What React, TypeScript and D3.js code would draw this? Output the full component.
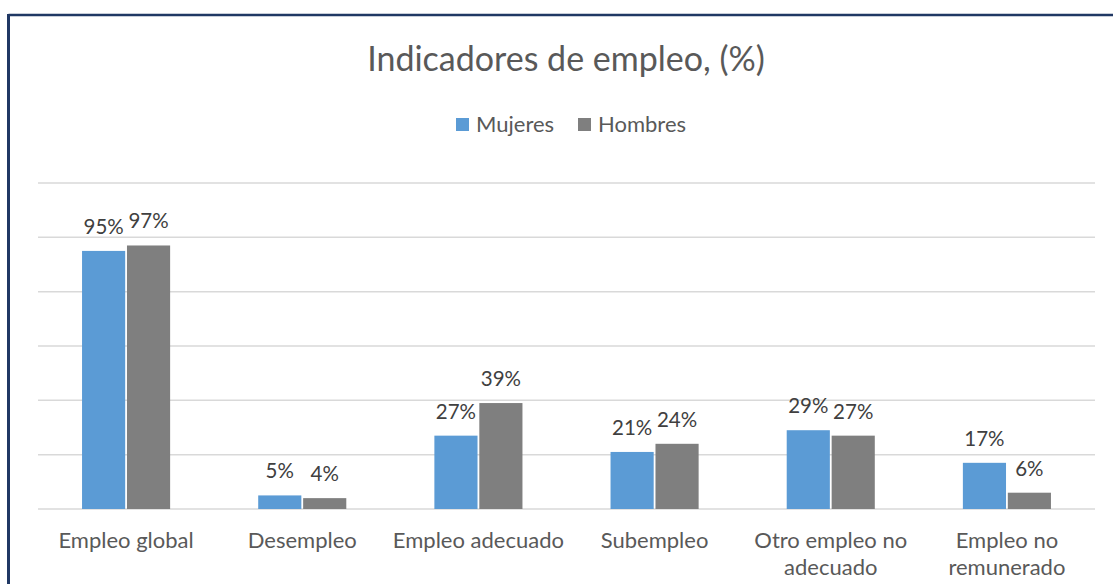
import React from "react";
import * as d3 from "d3";

const categories: string[][] = [
  ["Empleo global"],
  ["Desempleo"],
  ["Empleo adecuado"],
  ["Subempleo"],
  ["Otro empleo no", "adecuado"],
  ["Empleo no", "remunerado"],
];
const mujeres = [95, 5, 27, 21, 29, 17];
const hombres = [97, 4, 39, 24, 27, 6];
const seriesNames = ["Mujeres", "Hombres"];
const colors = ["#5B9BD5", "#7F7F7F"];
const yTicks = [0, 20, 40, 60, 80, 100, 120];

const W = 1113;
const H = 584;
const FONT = "Lato, 'Open Sans', sans-serif";

export default function App() {
  const left = 38;
  const right = 1095;
  const top = 183;
  const bottom = 509;
  const x0 = d3
    .scaleBand<number>()
    .domain(categories.map((_, i) => i))
    .range([left, right])
    .paddingInner(0.5)
    .paddingOuter(0.25);
  const x1 = d3
    .scaleBand<number>()
    .domain([0, 1])
    .range([0, x0.bandwidth()])
    .paddingInner(0.04);
  const y = d3.scaleLinear().domain([0, 120]).range([bottom, top]);
  const series = [mujeres, hombres];

  return (
    <svg
      width={W}
      height={H}
      style={{ position: "absolute", left: 0, top: 0, background: "#fff" }}
    >
      <rect x={0} y={0} width={W} height={H} fill="#fff" />
      {/* border */}
      <line x1={8.5} x2={W} y1={15} y2={15} stroke="#203864" strokeWidth={2.5} />
      <line x1={8.5} x2={8.5} y1={14} y2={H} stroke="#203864" strokeWidth={3} />

      {/* title */}
      <text
        x={566}
        y={71}
        textAnchor="middle"
        fontFamily={FONT}
        fontSize={34}
        fill="#595959"
      >
        Indicadores de empleo, (%)
      </text>

      {/* legend */}
      {seriesNames.map((n, i) => {
        const lx = i === 0 ? 456 : 578;
        return (
          <g key={n}>
            <rect x={lx} y={118} width={13} height={13} fill={colors[i]} />
            <text
              x={lx + 20}
              y={132}
              fontFamily={FONT}
              fontSize={22}
              fill="#595959"
            >
              {n}
            </text>
          </g>
        );
      })}

      {/* gridlines */}
      {yTicks.map((t) => (
        <line
          key={t}
          x1={left}
          x2={right}
          y1={y(t)}
          y2={y(t)}
          stroke="#D9D9D9"
          strokeWidth={1.5}
        />
      ))}

      {/* bars */}
      {categories.map((_, ci) => (
        <g key={ci} transform={`translate(${x0(ci)},0)`}>
          {series.map((s, si) => {
            const v = s[ci];
            const bx = x1(si)!;
            const bw = x1.bandwidth();
            return (
              <g key={si}>
                <rect
                  x={bx}
                  y={y(v)}
                  width={bw}
                  height={bottom - y(v)}
                  fill={colors[si]}
                />
                <text
                  x={bx + bw / 2}
                  y={y(v) - 17}
                  textAnchor="middle"
                  fontFamily={FONT}
                  fontSize={20.5}
                  fill="#404040"
                >
                  {v}%
                </text>
              </g>
            );
          })}
        </g>
      ))}

      {/* category labels */}
      {categories.map((lines, ci) => (
        <text
          key={ci}
          textAnchor="middle"
          fontFamily={FONT}
          fontSize={22}
          fill="#595959"
        >
          {lines.map((l, li) => (
            <tspan
              key={li}
              x={x0(ci)! + x0.bandwidth() / 2}
              y={548 + li * 27}
            >
              {l}
            </tspan>
          ))}
        </text>
      ))}
    </svg>
  );
}
